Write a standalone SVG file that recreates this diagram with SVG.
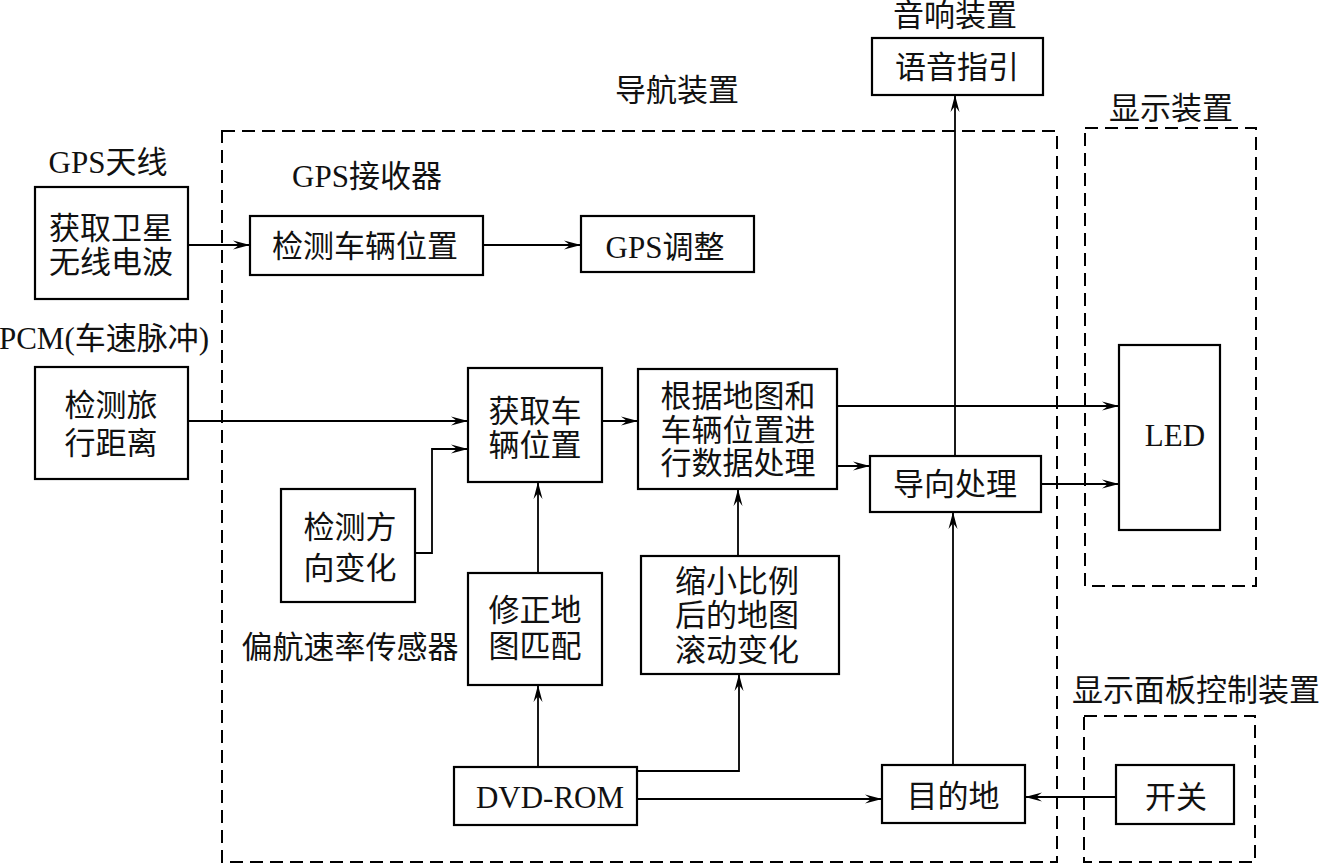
<svg xmlns="http://www.w3.org/2000/svg" width="1319" height="865" viewBox="0 0 1319 865">
<style>
.b{fill:#fff;stroke:#000;stroke-width:2.2}
.d{fill:none;stroke:#000;stroke-width:2;stroke-dasharray:13 7}
.c{fill:none;stroke:#000;stroke-width:1.8}
text{font-family:"Liberation Serif","Noto Sans CJK SC",serif;font-size:31px;fill:#111;text-anchor:middle;dominant-baseline:central}
</style>
<defs>
<marker id="a" markerUnits="userSpaceOnUse" markerWidth="18" markerHeight="12" refX="17" refY="6" orient="auto">
<path d="M0,1.5 L17,6 L0,10.5 L6,6 Z" fill="#000"/>
</marker>
</defs>
<rect width="1319" height="865" fill="#fff"/>
<g id="frames">
<rect class="d" x="222" y="131" width="835" height="731"/>
<rect class="d" x="1085" y="128" width="171" height="458"/>
<rect class="d" x="1084" y="716" width="171" height="146"/>
</g>
<g id="labels">
<text x="955" y="15">音响装置</text>
<text x="677" y="90">导航装置</text>
<text x="1171" y="108">显示装置</text>
<text x="108" y="162">GPS天线</text>
<text x="367" y="176">GPS接收器</text>
<text x="104" y="338">PCM(车速脉冲)</text>
<text x="350" y="647">偏航速率传感器</text>
<text x="1196" y="690">显示面板控制装置</text>
</g>
<g id="connectors">
<path class="c" d="M188,245 H250" marker-end="url(#a)"/>
<path class="c" d="M483,245 H581" marker-end="url(#a)"/>
<path class="c" d="M188,421 H468" marker-end="url(#a)"/>
<path class="c" d="M415,553 H432 V449 H468" marker-end="url(#a)"/>
<path class="c" d="M602,421 H638" marker-end="url(#a)"/>
<path class="c" d="M538,573 V482" marker-end="url(#a)"/>
<path class="c" d="M738,556 V489" marker-end="url(#a)"/>
<path class="c" d="M538,767 V685" marker-end="url(#a)"/>
<path class="c" d="M637,771 H739 V674" marker-end="url(#a)"/>
<path class="c" d="M637,799 H882" marker-end="url(#a)"/>
<path class="c" d="M1116,797 H1025" marker-end="url(#a)"/>
<path class="c" d="M953,765 V512" marker-end="url(#a)"/>
<path class="c" d="M955,456 V95" marker-end="url(#a)"/>
<path class="c" d="M837,406 H1119" marker-end="url(#a)"/>
<path class="c" d="M837,466 H870" marker-end="url(#a)"/>
<path class="c" d="M1041,484 H1119" marker-end="url(#a)"/>
</g>
<g id="n_sat"><rect class="b" x="35" y="187" width="153" height="112"/><text x="111" y="228">获取卫星</text><text x="111" y="262">无线电波</text></g>
<g id="n_detpos"><rect class="b" x="250" y="216" width="233" height="59"/><text x="365" y="246">检测车辆位置</text></g>
<g id="n_gpsadj"><rect class="b" x="581" y="216" width="173" height="56"/><text x="665" y="247">GPS调整</text></g>
<g id="n_dist"><rect class="b" x="35" y="367" width="153" height="112"/><text x="111" y="405">检测旅</text><text x="111" y="443">行距离</text></g>
<g id="n_getpos"><rect class="b" x="468" y="368" width="134" height="114"/><text x="535" y="411">获取车</text><text x="535" y="445">辆位置</text></g>
<g id="n_proc"><rect class="b" x="638" y="369" width="199" height="120"/><text x="738" y="396">根据地图和</text><text x="738" y="430">车辆位置进</text><text x="738" y="463">行数据处理</text></g>
<g id="n_guide"><rect class="b" x="870" y="456" width="171" height="56"/><text x="955" y="484">导向处理</text></g>
<g id="n_led"><rect class="b" x="1119" y="345" width="101" height="185"/><text x="1175" y="435">LED</text></g>
<g id="n_dir"><rect class="b" x="281" y="489" width="134" height="113"/><text x="350" y="527">检测方</text><text x="350" y="568">向变化</text></g>
<g id="n_match"><rect class="b" x="468" y="573" width="134" height="112"/><text x="535" y="610">修正地</text><text x="535" y="646">图匹配</text></g>
<g id="n_scroll"><rect class="b" x="641" y="556" width="198" height="118"/><text x="737" y="581">缩小比例</text><text x="737" y="615">后的地图</text><text x="737" y="650">滚动变化</text></g>
<g id="n_dvd"><rect class="b" x="454" y="767" width="183" height="58"/><text x="550" y="797">DVD-ROM</text></g>
<g id="n_dest"><rect class="b" x="882" y="765" width="143" height="58"/><text x="953" y="796">目的地</text></g>
<g id="n_switch"><rect class="b" x="1116" y="765" width="118" height="59"/><text x="1176" y="797">开关</text></g>
<g id="n_voice"><rect class="b" x="872" y="38" width="171" height="57"/><text x="957" y="67">语音指引</text></g>
</svg>
